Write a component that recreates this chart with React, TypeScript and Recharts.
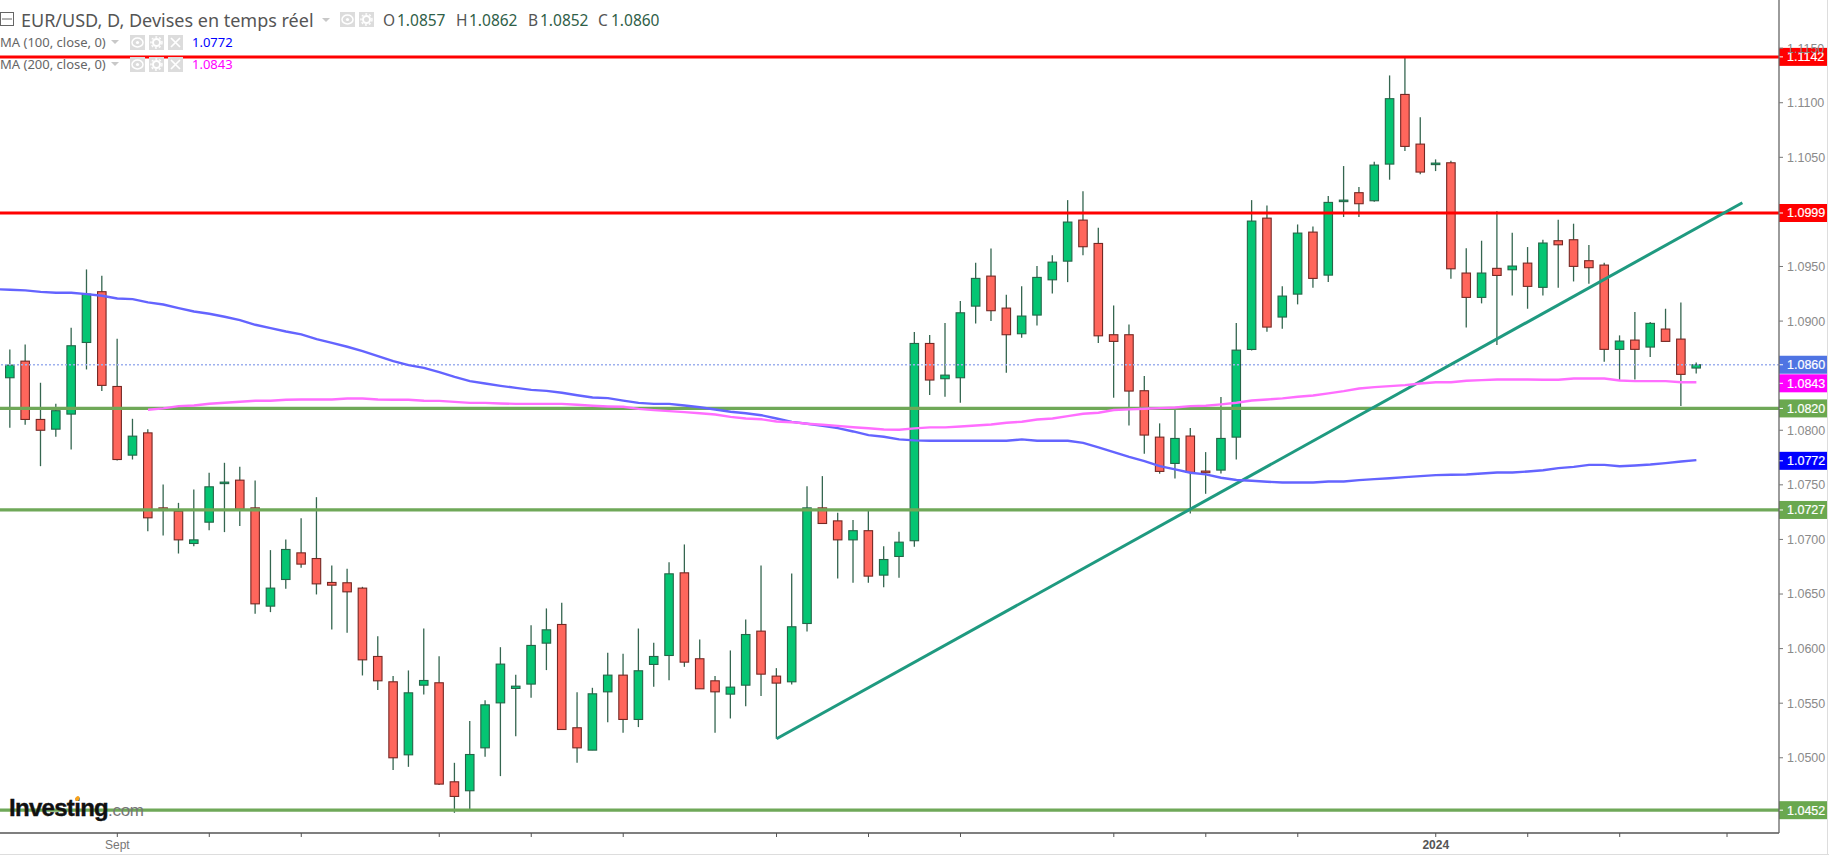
import React from "react";
import { ComposedChart, Bar, Line, XAxis, YAxis, ReferenceLine } from "recharts";

const opens = [1.08481,1.08633,1.08099,1.0801,1.08148,1.08804,1.09269,1.08401,1.07772,1.07976,1.07289,1.07259,1.06963,1.07158,1.07512,1.07543,1.07289,1.06389,1.06633,1.06877,1.06825,1.06606,1.06603,1.06554,1.05928,1.05696,1.05027,1.05665,1.05687,1.0478,1.04698,1.05091,1.05503,1.05635,1.05675,1.0605,1.06221,1.05275,1.0507,1.05604,1.05757,1.05351,1.05855,1.05937,1.06694,1.05907,1.05705,1.05583,1.05665,1.0616,1.05748,1.05696,1.0623,1.07289,1.0717,1.06996,1.0708,1.06673,1.06844,1.06988,1.08795,1.08472,1.08481,1.09137,1.09412,1.09119,1.08884,1.09055,1.09378,1.09549,1.09925,1.09711,1.08875,1.08875,1.08362,1.07937,1.07696,1.07947,1.07626,1.07635,1.07937,1.0874,1.09943,1.09037,1.09247,1.09815,1.09421,1.10099,1.10176,1.10102,1.10438,1.11076,1.10621,1.10441,1.1045,1.0944,1.09217,1.09483,1.0947,1.09531,1.09309,1.09736,1.09745,1.09553,1.09513,1.08741,1.08826,1.08762,1.08927,1.08835,1.0857];
const closes = [1.08597,1.08099,1.08,1.08179,1.08774,1.09247,1.08411,1.07732,1.07946,1.07198,1.07265,1.06996,1.06996,1.07482,1.07525,1.07277,1.0641,1.06554,1.06908,1.06774,1.06593,1.06581,1.0652,1.05897,1.05705,1.05,1.05595,1.05708,1.04759,1.04646,1.0503,1.05485,1.05858,1.05656,1.06029,1.06172,1.05259,1.05091,1.05586,1.05757,1.05351,1.05797,1.05928,1.06685,1.05876,1.05632,1.05604,1.05647,1.06129,1.05766,1.05684,1.062,1.07289,1.07146,1.06996,1.0708,1.06664,1.06816,1.06975,1.08795,1.0846,1.08505,1.09076,1.09391,1.09095,1.08875,1.09046,1.094,1.0954,1.09907,1.09681,1.08865,1.08814,1.08359,1.07956,1.07623,1.07925,1.07614,1.07611,1.07925,1.08734,1.09916,1.08945,1.09229,1.09806,1.09391,1.10087,1.10108,1.10075,1.10429,1.11037,1.106,1.10365,1.10447,1.09479,1.09217,1.0944,1.09418,1.09504,1.09318,1.09715,1.09699,1.09501,1.09489,1.08741,1.08817,1.08741,1.08979,1.08814,1.08512,1.086];
const highs = [1.0874,1.08786,1.08435,1.08243,1.0894,1.09473,1.09415,1.08838,1.08105,1.0801,1.07503,1.07335,1.07457,1.0761,1.07702,1.07665,1.0754,1.06902,1.06999,1.07195,1.07387,1.06761,1.06731,1.06566,1.06114,1.05748,1.058,1.06184,1.05931,1.04954,1.05336,1.05528,1.06013,1.0576,1.06215,1.06368,1.0642,1.05601,1.05641,1.05962,1.05952,1.06184,1.06053,1.06792,1.06954,1.06084,1.05748,1.05983,1.06267,1.06761,1.05821,1.06688,1.07488,1.0758,1.07244,1.07177,1.07274,1.06938,1.0707,1.08899,1.08872,1.08982,1.09183,1.09534,1.09665,1.09241,1.0932,1.09504,1.09604,1.10108,1.1019,1.09855,1.09143,1.08969,1.08496,1.08063,1.08197,1.0802,1.078,1.08304,1.08982,1.10108,1.10059,1.0932,1.09885,1.09867,1.10145,1.1042,1.10228,1.1046,1.1125,1.11421,1.10866,1.10481,1.10469,1.09666,1.09736,1.10005,1.09809,1.09678,1.09745,1.09928,1.09892,1.09696,1.09534,1.08869,1.09083,1.08991,1.09113,1.09171,1.0862];
const lows = [1.08023,1.0805,1.07671,1.0794,1.07824,1.08557,1.08359,1.07723,1.07732,1.07076,1.07036,1.06871,1.06938,1.07085,1.07067,1.07122,1.06319,1.06334,1.06548,1.0674,1.06496,1.06175,1.06145,1.05754,1.0562,1.04887,1.04917,1.0558,1.0475,1.04496,1.04527,1.05009,1.04832,1.05198,1.0555,1.05803,1.05259,1.04954,1.0507,1.05326,1.05229,1.05281,1.0565,1.05711,1.05833,1.05632,1.05229,1.0536,1.05473,1.05565,1.05174,1.05671,1.06157,1.07146,1.06642,1.06603,1.06603,1.06563,1.06648,1.06933,1.08322,1.08307,1.08252,1.08978,1.09,1.08527,1.08847,1.0896,1.09253,1.09357,1.09604,1.088,1.08298,1.08044,1.07785,1.07602,1.07559,1.07238,1.07418,1.07605,1.07733,1.08731,1.08902,1.0893,1.09153,1.09305,1.09357,1.09953,1.09953,1.10093,1.10295,1.10557,1.10344,1.10374,1.09388,1.08942,1.09162,1.0878,1.09235,1.09113,1.09235,1.09306,1.09363,1.09342,1.08628,1.08451,1.08466,1.0867,1.08814,1.08222,1.0852];
const ma100 = [1.09287,1.09281,1.09268,1.09259,1.09259,1.09247,1.09232,1.09207,1.09201,1.09171,1.09152,1.09119,1.09088,1.09067,1.0904,1.09009,1.08966,1.08936,1.08905,1.08878,1.08835,1.08801,1.08765,1.08725,1.08679,1.08633,1.08597,1.08572,1.08532,1.08489,1.0845,1.08428,1.08407,1.08388,1.0837,1.08361,1.08343,1.08321,1.083,1.08294,1.08272,1.08251,1.08242,1.08242,1.08227,1.08211,1.0819,1.08169,1.08156,1.08138,1.08108,1.08077,1.08059,1.0804,1.08019,1.07989,1.07955,1.0794,1.07916,1.07907,1.07904,1.07904,1.07904,1.07904,1.07904,1.07904,1.07916,1.07904,1.07904,1.07904,1.07885,1.07843,1.078,1.07757,1.07718,1.07672,1.07641,1.07611,1.07596,1.07565,1.07544,1.07537,1.07528,1.07522,1.07522,1.07522,1.07531,1.07531,1.07543,1.07552,1.07561,1.07571,1.0758,1.07589,1.07592,1.07595,1.07604,1.07613,1.07613,1.07622,1.07634,1.07653,1.07665,1.07683,1.07683,1.07671,1.07677,1.07686,1.07699,1.07714,1.07726];
const ma200Start = 9;
const ma200 = [1.08188,1.082,1.08221,1.08227,1.08243,1.08252,1.08261,1.0827,1.0827,1.08279,1.08282,1.08282,1.08282,1.08291,1.08291,1.08282,1.08279,1.08279,1.0827,1.08269,1.0826,1.08251,1.08251,1.08245,1.08242,1.08242,1.08242,1.08242,1.08233,1.08224,1.08218,1.08215,1.08196,1.08184,1.08175,1.08166,1.08156,1.08144,1.08123,1.08108,1.08101,1.0808,1.08074,1.08059,1.0805,1.0804,1.08028,1.08019,1.08007,1.08005,1.08017,1.08026,1.08026,1.08035,1.08044,1.08053,1.08069,1.08078,1.08099,1.08108,1.0813,1.08151,1.0816,1.08185,1.08191,1.08197,1.08203,1.08209,1.08221,1.08224,1.08237,1.08252,1.08273,1.08282,1.08292,1.08307,1.08318,1.08338,1.08358,1.08382,1.08395,1.08404,1.08413,1.08428,1.0844,1.0844,1.08453,1.08459,1.08465,1.08465,1.08465,1.08462,1.08462,1.08474,1.08474,1.08474,1.08456,1.0845,1.0845,1.0845,1.0844,1.0844];

const priceTicks = [1.05,1.055,1.06,1.065,1.07,1.075,1.08,1.09,1.095,1.105,1.11,1.115];
const timeTickIndex = [7,13,19,28,34,40,50,56,62,72,78,84,93,99,105,112];
const timeTickLabels: Record<number, string> = { 7: "Sept", 93: "2024" };

const resistance = [1.1142, 1.0999];
const support = [1.082, 1.0727, 1.0452];
const lastPrice = 1.086;
const trendFrom = { x: 50, y: 1.05174 };
const trendTo = { x: 113, y: 1.10084 };

const tags = [
  { value: 1.1142, text: "1.1142", color: "#ff0000" },
  { value: 1.0999, text: "1.0999", color: "#ff0000" },
  { value: 1.086, text: "1.0860", color: "#4f74e3" },
  { value: 1.0843, text: "1.0843", color: "#ff00ff" },
  { value: 1.082, text: "1.0820", color: "#6aa84f" },
  { value: 1.0772, text: "1.0772", color: "#0000ff" },
  { value: 1.0727, text: "1.0727", color: "#6aa84f" },
  { value: 1.0452, text: "1.0452", color: "#6aa84f" },
];

const rows: any[] = [{ i: -1, ma100: 1.09292 }];
opens.forEach((open, i) => {
  rows.push({
    i,
    open,
    close: closes[i],
    high: highs[i],
    low: lows[i],
    range: [lows[i], highs[i]],
    ma100: ma100[i],
    ma200: i >= ma200Start ? ma200[i - ma200Start] : null,
  });
});

const SANS = '"Liberation Sans", Arial, sans-serif';
const HEAD = '"Noto Sans", sans-serif';

function Candle(props: any) {
  const { x, y, width, height, payload } = props;
  if (!payload || payload.high == null || height == null) return null;
  const top = Math.min(y, y + height);
  const k = Math.abs(height) / (payload.high - payload.low);
  const up = payload.close >= payload.open;
  const bodyHi = Math.max(payload.open, payload.close);
  const bodyLo = Math.min(payload.open, payload.close);
  const by = top + (payload.high - bodyHi) * k;
  const bh = Math.max((bodyHi - bodyLo) * k, 1.5);
  const cx = x + width / 2;
  return (
    <g>
      <line x1={cx} x2={cx} y1={top} y2={top + Math.abs(height)} stroke="#356650" strokeWidth={1.3} />
      <rect
        x={x + 0.25}
        y={by}
        width={width - 0.5}
        height={bh}
        fill={up ? "#05c573" : "#ff665c"}
        stroke={up ? "#256548" : "#752824"}
        strokeWidth={1.1}
      />
    </g>
  );
}

function TimeTick(props: any) {
  const { x, y, payload } = props;
  const label = timeTickLabels[payload.value];
  if (!label) return null;
  const bold = label === "2024";
  return (
    <text x={x} y={y + 10} textAnchor="middle" fontFamily={SANS} fontSize={12} fontWeight={bold ? 700 : 400} fill={bold ? "#555" : "#777"}>
      {label}
    </text>
  );
}

function PriceTag({ viewBox, text, color }: any) {
  if (!viewBox) return null;
  const x = viewBox.x + viewBox.width;
  const y = viewBox.y;
  return (
    <g>
      <rect x={x} y={y - 9} width={48} height={18} fill={color} />
      <line x1={x} x2={x + 4} y1={y} y2={y} stroke="#ffffff" strokeWidth={1} />
      <text x={x + 8} y={y + 4.5} fontFamily={SANS} fontSize={12.5} stroke="#ffffff" strokeWidth={0.2} fill="#ffffff">
        {text}
      </text>
    </g>
  );
}

function IconBox({ x, y, kind }: { x: number; y: number; kind: string }) {
  return (
    <svg style={{ position: "absolute", left: x, top: y }} width={15} height={15}>
      <rect width={15} height={15} fill="#dcdcdc" />
      {kind === "eye" && (
        <>
          <ellipse cx={7.5} cy={7.5} rx={5.5} ry={4.5} fill="none" stroke="#fff" strokeWidth={1.5} />
          <circle cx={7.5} cy={7.5} r={1.6} fill="#fff" />
        </>
      )}
      {kind === "gear" && (
        <>
          <circle cx={7.5} cy={7.5} r={3.5} fill="none" stroke="#fff" strokeWidth={2} />
          <circle cx={7.5} cy={7.5} r={5.5} fill="none" stroke="#fff" strokeWidth={1.4} strokeDasharray="2 2" />
        </>
      )}
      {kind === "x" && (
        <path d="M3 3 L12 12 M12 3 L3 12" stroke="#fff" strokeWidth={1.7} />
      )}
    </svg>
  );
}

function Caret({ x, y }: { x: number; y: number }) {
  return (
    <svg style={{ position: "absolute", left: x, top: y }} width={8} height={5}>
      <path d="M0 0 L8 0 L4 4 Z" fill="#c8c8c8" />
    </svg>
  );
}

function Txt({ x, cy, size, color, children, font = HEAD }: any) {
  return (
    <div
      style={{
        position: "absolute",
        left: x,
        top: cy - 12,
        height: 24,
        lineHeight: "24px",
        fontSize: size,
        color,
        fontFamily: font,
        whiteSpace: "nowrap",
      }}
    >
      {children}
    </div>
  );
}

function Header() {
  return (
    <>
      <svg style={{ position: "absolute", left: 0, top: 12 }} width={14} height={15}>
        <rect x={0.5} y={0.5} width={13} height={13} fill="none" stroke="#666" strokeWidth={1} />
        <line x1={2} x2={12} y1={7} y2={7} stroke="#666" strokeWidth={1} />
      </svg>
      <Txt x={21} cy={20} size={18} color="#555555">EUR/USD, D, Devises en temps réel</Txt>
      <Caret x={322} y={18} />
      <IconBox x={340} y={12} kind="eye" />
      <IconBox x={359} y={12} kind="gear" />
      <Txt x={383} cy={20} size={15.5} color="#555555">O</Txt>
      <Txt x={397} cy={20} size={15.5} color="#2f6048">1.0857</Txt>
      <Txt x={456} cy={20} size={15.5} color="#555555">H</Txt>
      <Txt x={469} cy={20} size={15.5} color="#2f6048">1.0862</Txt>
      <Txt x={528} cy={20} size={15.5} color="#555555">B</Txt>
      <Txt x={540} cy={20} size={15.5} color="#2f6048">1.0852</Txt>
      <Txt x={598} cy={20} size={15.5} color="#555555">C</Txt>
      <Txt x={611} cy={20} size={15.5} color="#2f6048">1.0860</Txt>

      <Txt x={0} cy={42} size={13} color="#666666">MA (100, close, 0)</Txt>
      <Caret x={111} y={40} />
      <IconBox x={130} y={35} kind="eye" />
      <IconBox x={149} y={35} kind="gear" />
      <IconBox x={168} y={35} kind="x" />
      <Txt x={192} cy={42} size={13} color="#0000ff">1.0772</Txt>

      <Txt x={0} cy={64} size={13} color="#666666">MA (200, close, 0)</Txt>
      <Caret x={111} y={62} />
      <IconBox x={130} y={57} kind="eye" />
      <IconBox x={149} y={57} kind="gear" />
      <IconBox x={168} y={57} kind="x" />
      <Txt x={192} cy={64} size={13} color="#ff00ff">1.0843</Txt>

      <div style={{ position: "absolute", left: 9, top: 791, height: 34, lineHeight: "34px", whiteSpace: "nowrap", fontFamily: SANS }}>
        <span style={{ fontSize: 24, fontWeight: 700, color: "#111", letterSpacing: -0.7, WebkitTextStroke: "0.4px #111" }}>Investing</span>
        <span style={{ fontSize: 17, color: "#777", letterSpacing: -0.3 }}>.com</span>
      </div>
      <svg style={{ position: "absolute", left: 74, top: 795 }} width={7} height={7}>
        <ellipse cx={3.5} cy={3.5} rx={2} ry={2.6} fill="#f7a21b" transform="rotate(30 3.5 3.5)" />
      </svg>
    </>
  );
}

export default function App() {
  return (
    <div style={{ position: "absolute", left: 0, top: 0, width: 1829, height: 855, background: "#fff", overflow: "hidden" }}>
      <ComposedChart width={1829} height={855} data={rows} margin={{ top: 0, right: 0, bottom: 0, left: 0 }}>
        <XAxis
          dataKey="i"
          type="number"
          domain={[-0.652, 115.39]}
          allowDataOverflow
          ticks={timeTickIndex}
          interval={0}
          height={22}
          tickSize={4}
          tickLine={{ stroke: "#555" }}
          axisLine={{ stroke: "#555", strokeWidth: 1.3 }}
          tick={<TimeTick />}
        />
        <YAxis
          orientation="right"
          type="number"
          domain={[1.04311, 1.11941]}
          allowDataOverflow
          ticks={priceTicks}
          interval={0}
          width={50}
          tickSize={4}
          tickMargin={4}
          tickLine={{ stroke: "#777" }}
          axisLine={{ stroke: "#666", strokeWidth: 1.3 }}
          tickFormatter={(v: number) => v.toFixed(4)}
          tick={{ fill: "#8a8a8a", fontSize: 12.5, fontFamily: SANS }}
        />
        <ReferenceLine y={lastPrice} stroke="#9db0ee" strokeWidth={1.6} strokeDasharray="2 2" />
        {resistance.map((v) => (
          <ReferenceLine key={v} y={v} stroke="#ff0000" strokeWidth={3} />
        ))}
        {support.map((v) => (
          <ReferenceLine key={v} y={v} stroke="#6fa858" strokeWidth={3.2} />
        ))}
        <ReferenceLine segment={[trendFrom, trendTo]} stroke="#1f9a80" strokeWidth={3} />
        <Line dataKey="ma100" stroke="#6464ff" strokeWidth={2.4} dot={false} isAnimationActive={false} connectNulls={false} />
        <Line dataKey="ma200" stroke="#ff6eff" strokeWidth={2.4} dot={false} isAnimationActive={false} connectNulls={false} />
        <Bar dataKey="range" barSize={9} shape={<Candle />} isAnimationActive={false} />
        {tags.map((t) => (
          <ReferenceLine
            key={t.text}
            y={t.value}
            stroke="none"
            label={<PriceTag text={t.text} color={t.color} />}
          />
        ))}
      </ComposedChart>
      <Header />
      <div style={{ position: "absolute", left: 1827, top: 0, width: 1, height: 855, background: "#dddddd" }} />
      <div style={{ position: "absolute", left: 0, top: 854, width: 1829, height: 1, background: "#dddddd" }} />
    </div>
  );
}
